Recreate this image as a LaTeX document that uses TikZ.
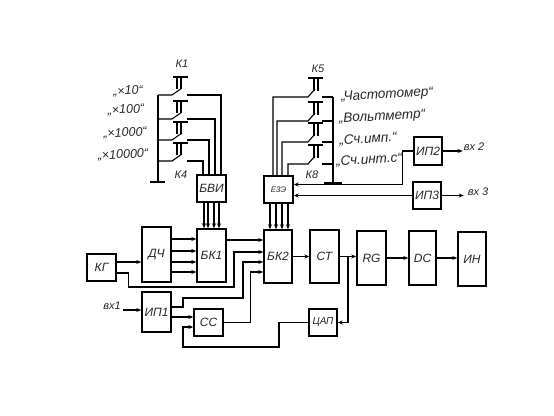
\documentclass[tikz,border=0pt]{standalone}
\usepackage{fontspec}
\setmainfont{Liberation Sans}
\usetikzlibrary{arrows.meta, calc}
\tikzset{
  % --- Blocks -----------------------------------------------
  blk/.style={draw, line width=1.4pt, fill=white, inner sep=0pt, align=center,
    font=\fontsize{12}{14}\selectfont\itshape, text=black!85},
  lbl/.style={font=\fontsize{12.5}{14}\selectfont\itshape, inner sep=0pt, text=black!85, rotate=3},
  lblr/.style={font=\fontsize{13.5}{15}\selectfont\itshape, inner sep=0pt, text=black!85, rotate=3},
  lblk/.style={font=\fontsize{11}{13}\selectfont\itshape, inner sep=0pt, text=black!85},
  arr/.style={-{Stealth[length=5pt,width=4pt]}, line width=1.1pt},
  wire/.style={line width=1.1pt},
  bus/.style={line width=1.5pt}
}
\begin{document}
\begin{tikzpicture}[x=1pt, y=-1pt]
  \useasboundingbox (0,0) rectangle (554,415);

  % --- Top row: indication blocks ---------------------------
  \node[blk, minimum width=29pt, minimum height=27pt] (BVI) at (211.5,188.5) {БВИ};
  \node[blk, minimum width=29pt, minimum height=27pt, font=\fontsize{8}{9}\selectfont\itshape] (EZE) at (278.5,189.5) {Е3Э};
  \node[blk, minimum width=28pt, minimum height=28pt] (IP2) at (428,151) {ИП2};
  \node[blk, minimum width=28pt, minimum height=27pt] (IP3) at (427,195.5) {ИП3};

  % --- Main row ----------------------------------------------
  \node[blk, minimum width=29pt, minimum height=27pt] (KG) at (101.5,267.5) {КГ};
  \node[blk, minimum width=29pt, minimum height=55pt] (DCH) at (156.5,254.5) {ДЧ};
  \node[blk, minimum width=29pt, minimum height=53pt] (BK1) at (211.5,255.5) {БК1};
  \node[blk, minimum width=28pt, minimum height=53pt] (BK2) at (278,256.5) {БК2};
  \node[blk, minimum width=29pt, minimum height=53pt] (CT) at (324.5,256.5) {СТ};
  \node[blk, minimum width=29pt, minimum height=54pt] (RG) at (371.5,258) {RG};
  \node[blk, minimum width=27pt, minimum height=54pt] (DC) at (422.5,258) {DC};
  \node[blk, minimum width=28pt, minimum height=54pt] (IN) at (472,259) {ИН};

  % --- Bottom row --------------------------------------------
  \node[blk, minimum width=29pt, minimum height=40pt] (IP1) at (156.5,312) {ИП1};
  \node[blk, minimum width=29pt, minimum height=27pt] (SS) at (208.5,322.5) {СС};
  \node[blk, minimum width=28pt, minimum height=27pt, font=\fontsize{10}{12}\selectfont\itshape] (DAC) at (323,322.5) {ЦАП};

  % --- Switches K1-K4 ----------------------------------------
  \draw[bus] (158,95) coordinate (BUSA) -- (158,182) coordinate (BUSB);
  \draw[bus] (150,182) -- (165,182);
  \foreach \n/\y/\x in {1/95/221, 2/119/215, 3/140/209, 4/161/203} {
    \draw[wire] (BUSA |- 0,\y) -- (172,\y) -- (182,\y-7);
    \draw[bus] (173,\y-18) -- (188,\y-18);
    \draw[bus] (177,\y-18) -- (177,\y-6) (181,\y-18) -- (181,\y-6);
    \draw[wire] (187,\y) -- (\x,\y) -- (\x,175);
  }

  % --- Switches K5-K8 ----------------------------------------
  \draw[bus] (333,97) coordinate (BUSC) -- (333,183) coordinate (BUSD);
  \draw[bus] (324,183) -- (342,183);
  \foreach \n/\y/\x in {1/97/273, 2/121/277, 3/142/282, 4/164/288} {
    \draw[wire] (BUSC |- 0,\y) -- (322,\y);
    \draw[bus] (308,\y-19) -- (323,\y-19);
    \draw[bus] (314,\y-19) -- (314,\y-6) (318,\y-19) -- (318,\y-6);
    \draw[wire] (\x,176) -- (\x,\y) -- (308,\y) -- (315,\y-8);
  }

  % --- Labels ------------------------------------------------
  \node[lblk] (K1) at (182,64) {К1};
  \node[lblk] (K4) at (181,175) {К4};
  \node[lblk] (K5) at (318,69) {К5};
  \node[lblk] (K8) at (312,175) {К8};
  \node[lbl] (X10) at (128,91) {,,×10“};
  \node[lbl] (X100) at (126,110) {,,×100“};
  \node[lbl] (X1000) at (125,133) {,,×1000“};
  \node[lbl] (X10000) at (123,155) {,,×10000“};
  \node[lblr] (FREQ) at (387,95) {,,Частотомер“};
  \node[lblr] (VOLT) at (382,117) {,,Вольтметр“};
  \node[lblr] (CNTI) at (368,139) {,,Сч.имп.“};
  \node[lblr] (CNTT) at (369,160) {,,Сч.инт.с“};
  \node[lblk] (IN1) at (112,306) {вх1};
  \node[lblk] (IN2) at (474,147) {вх 2};
  \node[lblk] (IN3) at (478,192) {вх 3};

  % --- Bundles into BK1, BK2 ---------------------------------
  \foreach \x in {204,208,214,219}
    \draw[arr] (\x,0 |- BVI.south) -- (\x,0 |- BK1.north);
  \foreach \x in {270,276,282,288}
    \draw[arr] (\x,0 |- EZE.south) -- (\x,0 |- BK2.north);

  % --- Links: DCH / BK1 / BK2 --------------------------------
  \draw[arr] ([yshift=5.5pt]KG.east) -- ([yshift=-7.5pt]DCH.west);
  \foreach \s in {15.5,3.5,-7.5,-17.5}
    \draw[arr] ([yshift=\s pt]DCH.east) -- ([yshift=\s pt]DCH.east -| BK1.west);
  \draw[arr] ([yshift=15.5pt]BK1.east) -- ([yshift=15.5pt]BK1.east -| BK2.west);
  \draw[arr] ([yshift=-5.5pt]KG.east) -- ++(12,0) |- (234,287) |- ([yshift=4.5pt]BK2.west);
  \draw[arr] ([yshift=5pt]IP1.east) -- (183,307) |- (243,298) |- ([yshift=-5.5pt]BK2.west);
  \draw[arr] ([yshift=-5pt]IP1.east) -- ([yshift=5.5pt]SS.west);
  \draw[arr] (SS.east) -- ++(27,0) |- ([yshift=-15.5pt]BK2.west);
  \draw[arr] (IN1.east) ++(2,4) coordinate (IN1w) -- (IN1w -| IP1.west);

  % --- Links: upper right ------------------------------------
  \draw[arr] (IP2.west) -- ++(-11,0) |- ([yshift=2.5pt]EZE.east |- 0,187);
  \draw[arr] (IP3.west) -- (IP3.west -| EZE.east);
  \draw[arr] (IP2.east) -- ++(20,0) coordinate (IN2w);
  \draw[arr] (IP3.east) -- ++(22,0) coordinate (IN3w);

  % --- Links: main row ---------------------------------------
  \draw[arr] (BK2.east) -- (CT.west);
  \draw[arr] (CT.east) -- (RG.west |- CT.east);
  \draw[arr] (RG.east) -- (DC.west);
  \draw[arr] (DC.east) -- (IN.west |- DC.east);
  \coordinate (JCT) at (348,256.5);
  \draw[arr] (JCT) |- (DAC.east);
  \draw[arr] (DAC.west) -| (279,347) -| (183,327) -- ([yshift=-4.5pt]SS.west);

\end{tikzpicture}
\end{document}
